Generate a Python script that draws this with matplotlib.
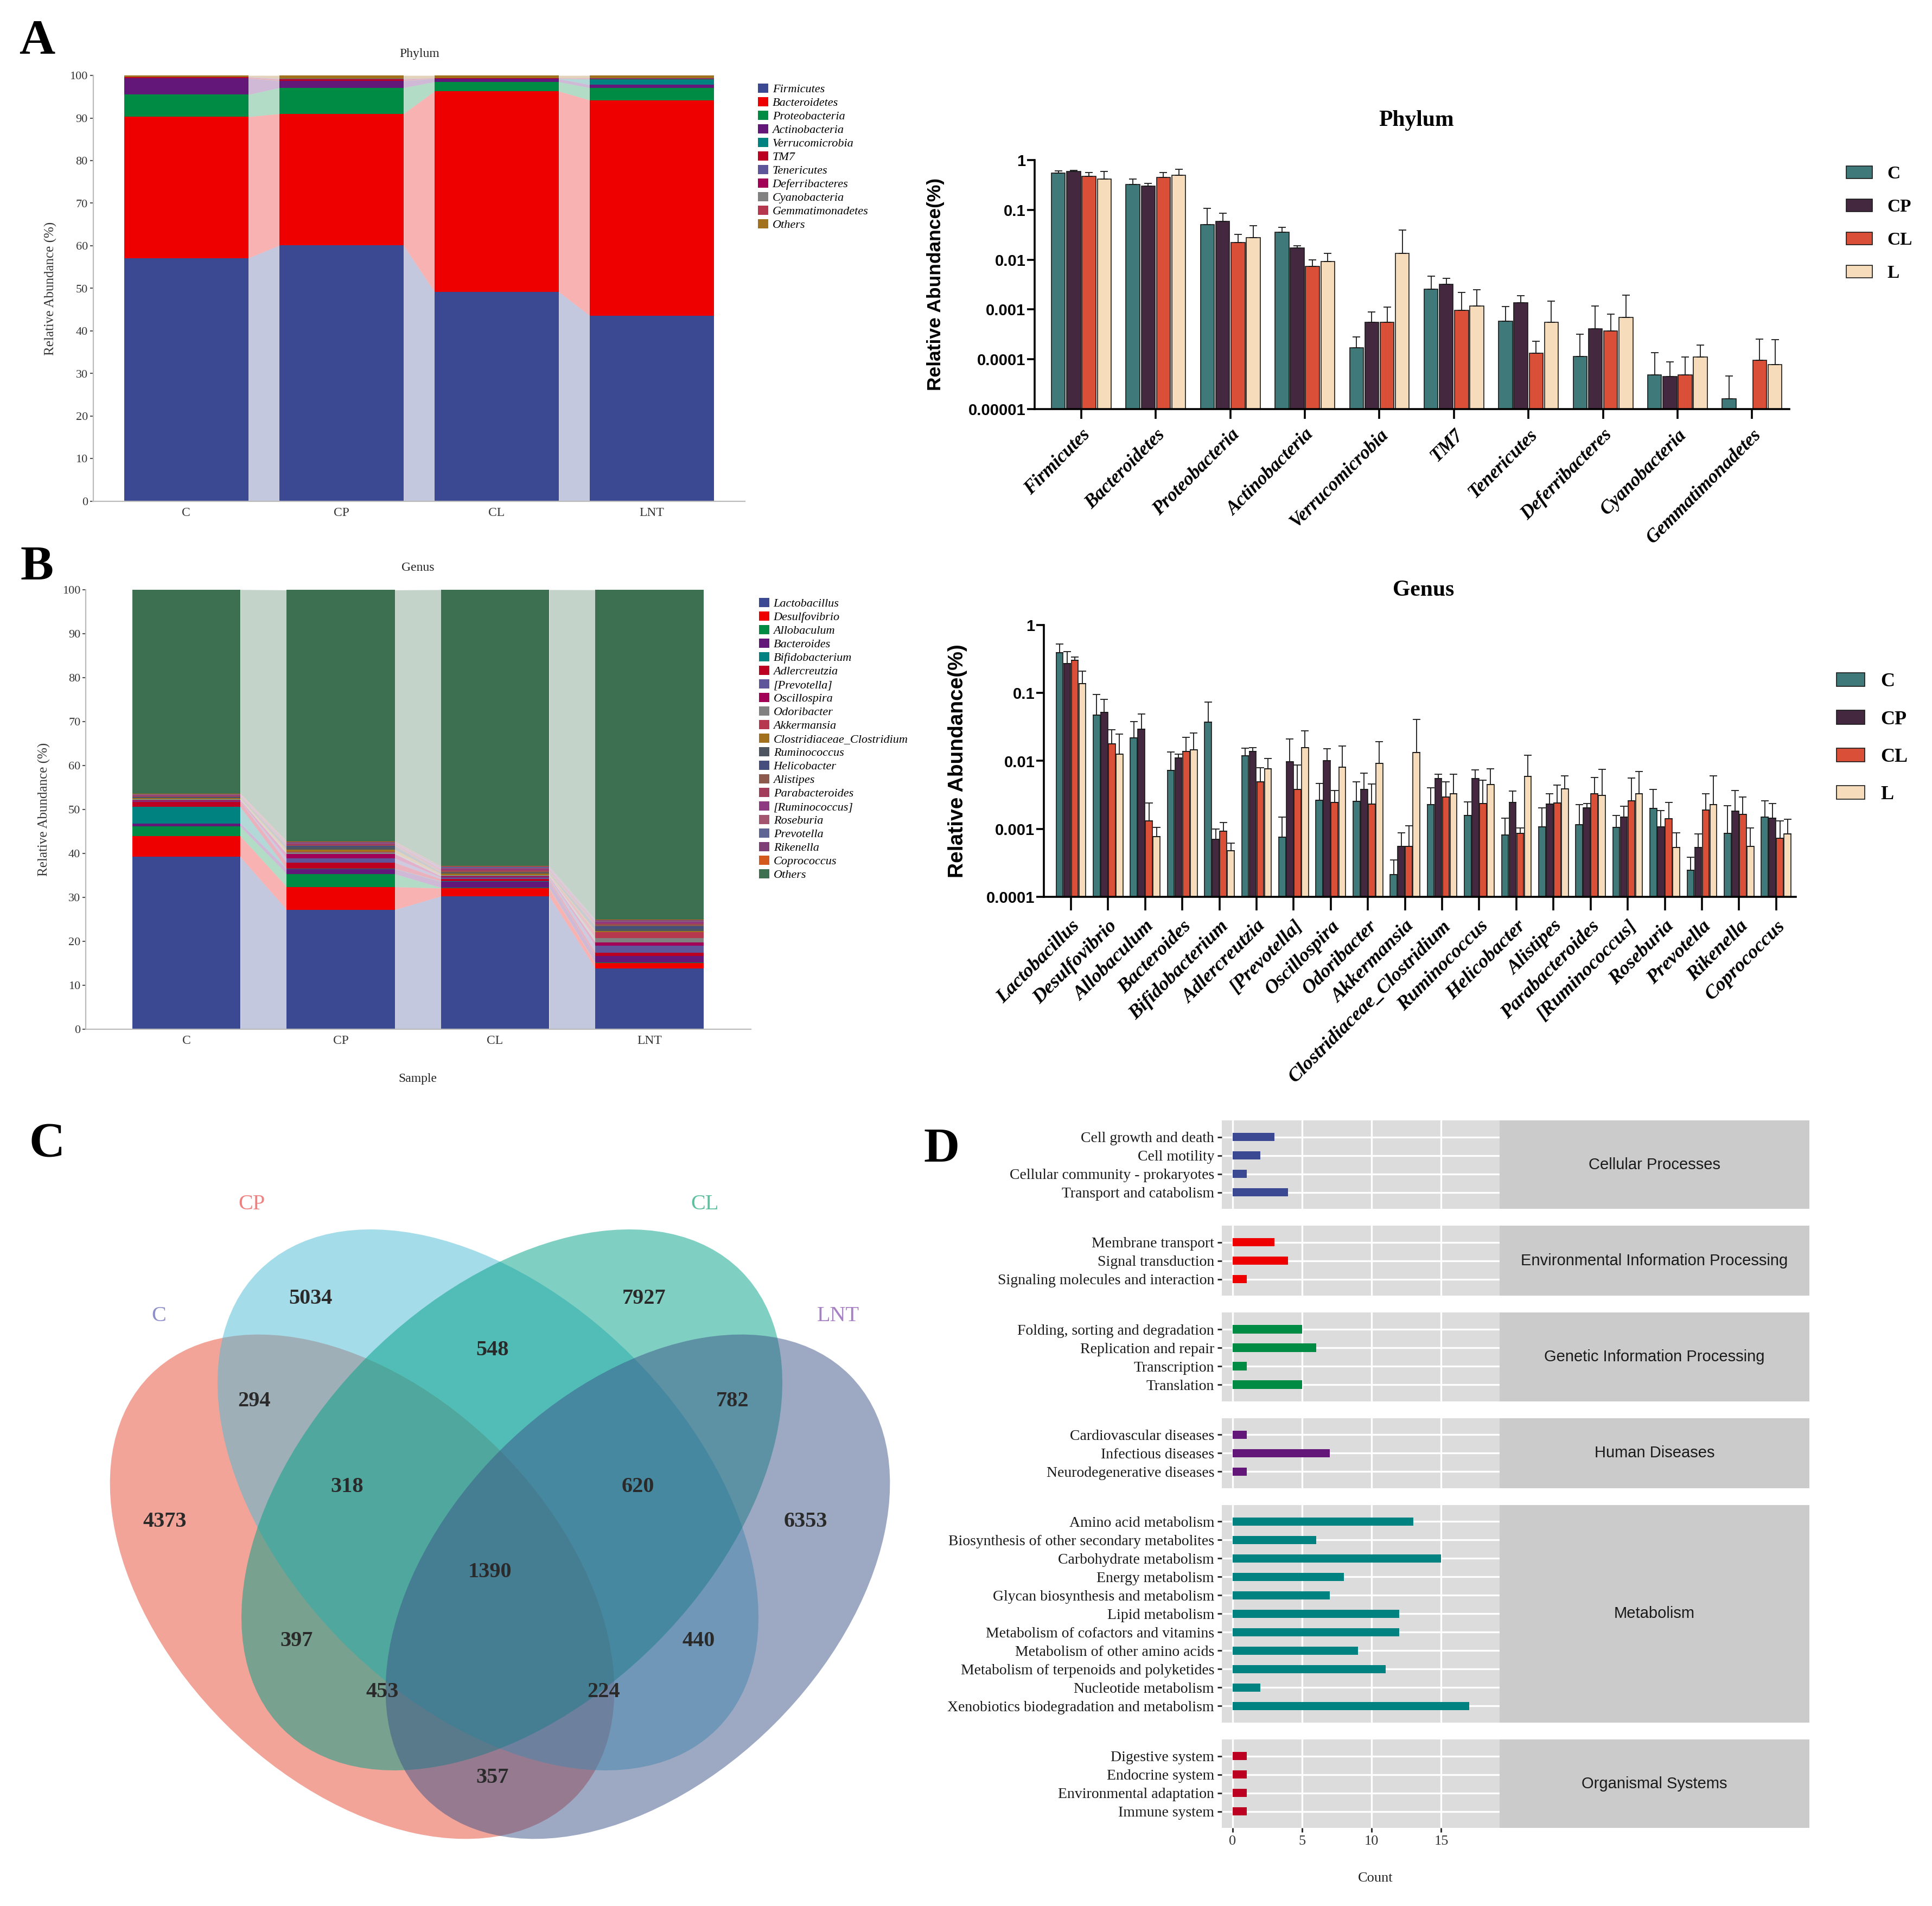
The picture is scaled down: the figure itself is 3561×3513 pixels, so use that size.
import numpy as np
import matplotlib
matplotlib.use("Agg")
import matplotlib.pyplot as plt
from matplotlib.patches import Ellipse
from matplotlib.ticker import NullLocator

SERIF = "Liberation Serif"
SANS = "Liberation Sans"

# ---------------- data ----------------
samples = ["C", "CP", "CL", "LNT"]
groups = ["C", "CP", "CL", "L"]

# A: phylum, stacked relative abundance (%)
phyla = ["Firmicutes", "Bacteroidetes", "Proteobacteria", "Actinobacteria",
         "Verrucomicrobia", "TM7", "Tenericutes", "Deferribacteres",
         "Cyanobacteria", "Gemmatimonadetes"]
pct_C = [57.1, 33.2, 5.2, 3.8, 0.02, 0.26, 0.06, 0.01, 0.005, 0.002, 0.34]
pct_CP = [60.1, 30.9, 6.1, 1.6, 0.06, 0.33, 0.14, 0.04, 0.005, 0.0, 0.72]
pct_CL = [49.2, 47.1, 2.2, 0.7, 0.06, 0.10, 0.01, 0.04, 0.005, 0.01, 0.57]
pct_LNT = [43.6, 50.6, 2.9, 0.7, 1.35, 0.12, 0.06, 0.07, 0.011, 0.008, 0.58]

# A: phylum group means and mean+sd (fraction)
phy_C = [0.547, 0.317, 0.0503, 0.0351, 0.00017, 0.00253, 0.000585, 0.000115, 0.0000486, 0.0000163]
phy_CP = [0.579, 0.295, 0.058, 0.0171, 0.00056, 0.00318, 0.00138, 0.00041, 0.0000452, np.nan]
phy_CL = [0.467, 0.447, 0.0219, 0.0073, 0.00055, 0.00097, 0.000133, 0.00037, 0.0000492, 0.0000955]
phy_L = [0.416, 0.488, 0.0275, 0.0092, 0.0132, 0.00118, 0.00055, 0.0007, 0.000112, 0.0000782]
phy_C_up = [0.605, 0.416, 0.106, 0.0449, 0.000285, 0.0047, 0.00115, 0.00032, 0.000135, 0.0000466]
phy_CP_up = [0.62, 0.335, 0.0844, 0.0189, 0.00089, 0.0042, 0.0019, 0.00117, 0.0000891, np.nan]
phy_CL_up = [0.563, 0.555, 0.0318, 0.0099, 0.00111, 0.0022, 0.000233, 0.00081, 0.000112, 0.000254]
phy_L_up = [0.579, 0.65, 0.0475, 0.0132, 0.0394, 0.0025, 0.00147, 0.00195, 0.000193, 0.00025]

# B: genus group means and mean+sd (fraction)
genera = ["Lactobacillus", "Desulfovibrio", "Allobaculum", "Bacteroides", "Bifidobacterium",
          "Adlercreutzia", "[Prevotella]", "Oscillospira", "Odoribacter", "Akkermansia",
          "Clostridiaceae_Clostridium", "Ruminococcus", "Helicobacter", "Alistipes",
          "Parabacteroides", "[Ruminococcus]", "Roseburia", "Prevotella", "Rikenella", "Coprococcus"]
gen_C = [0.392, 0.0475, 0.0217, 0.0073, 0.0372, 0.012, 0.00076, 0.00263, 0.00254, 0.000214,
         0.00226, 0.00157, 0.00082, 0.00108, 0.00115, 0.00105, 0.00199, 0.000247, 0.00086, 0.0015]
gen_CP = [0.272, 0.052, 0.0294, 0.0111, 0.0007, 0.0139, 0.0098, 0.0101, 0.00383, 0.00055,
          0.0055, 0.0055, 0.00245, 0.0023, 0.00203, 0.0015, 0.00108, 0.00053, 0.00181, 0.00145]
gen_CL = [0.303, 0.018, 0.0013, 0.0137, 0.00093, 0.0049, 0.00383, 0.00245, 0.00234, 0.00055,
          0.00296, 0.00237, 0.00086, 0.0024, 0.00329, 0.0026, 0.0014, 0.0019, 0.00164, 0.00073]
gen_L = [0.138, 0.0126, 0.00077, 0.0147, 0.00048, 0.0076, 0.0158, 0.0081, 0.0092, 0.0134,
         0.00329, 0.00446, 0.0059, 0.0039, 0.00313, 0.00329, 0.00053, 0.00229, 0.00055, 0.00085]
gen_C_up = [0.525, 0.095, 0.0376, 0.0136, 0.0733, 0.0154, 0.0015, 0.0047, 0.0049, 0.00035,
            0.004, 0.0025, 0.00143, 0.00203, 0.00229, 0.00157, 0.00383, 0.00038, 0.0022, 0.0026]
gen_CP_up = [0.406, 0.08, 0.0486, 0.0126, 0.001, 0.0156, 0.0212, 0.0151, 0.00656, 0.00087,
             0.0064, 0.0074, 0.0036, 0.0033, 0.00235, 0.00215, 0.00185, 0.00085, 0.0037, 0.00237]
gen_CL_up = [0.34, 0.0287, 0.0024, 0.0222, 0.00124, 0.0079, 0.0087, 0.00365, 0.0046, 0.00112,
             0.00495, 0.0052, 0.00104, 0.00445, 0.0057, 0.0056, 0.00245, 0.00329, 0.00296, 0.0013]
gen_L_up = [0.208, 0.025, 0.00105, 0.0258, 0.00062, 0.0109, 0.0277, 0.0166, 0.0193, 0.0408,
            0.0064, 0.0076, 0.0122, 0.006, 0.0075, 0.007, 0.00087, 0.006, 0.00104, 0.00138]
genus_others_pct = [46.4, 57.2, 62.9, 75.1]

# C: Venn counts
venn_sets = ["C", "CP", "CL", "LNT"]
venn_counts = [5034, 7927, 294, 548, 782, 4373, 318, 620, 6353, 1390, 397, 440, 453, 224, 357]

# D: KEGG level 2 counts
kegg_classes = ["Cellular Processes", "Environmental Information Processing",
                "Genetic Information Processing", "Human Diseases", "Metabolism",
                "Organismal Systems"]
cell_terms = ["Cell growth and death", "Cell motility", "Cellular community - prokaryotes",
              "Transport and catabolism"]
cell_counts = [3, 2, 1, 4]
env_terms = ["Membrane transport", "Signal transduction", "Signaling molecules and interaction"]
env_counts = [3, 4, 1]
gen_terms = ["Folding, sorting and degradation", "Replication and repair", "Transcription",
             "Translation"]
gen_counts = [5, 6, 1, 5]
hum_terms = ["Cardiovascular diseases", "Infectious diseases", "Neurodegenerative diseases"]
hum_counts = [1, 7, 1]
met_terms = ["Amino acid metabolism", "Biosynthesis of other secondary metabolites",
             "Carbohydrate metabolism", "Energy metabolism", "Glycan biosynthesis and metabolism",
             "Lipid metabolism", "Metabolism of cofactors and vitamins",
             "Metabolism of other amino acids", "Metabolism of terpenoids and polyketides",
             "Nucleotide metabolism", "Xenobiotics biodegradation and metabolism"]
met_counts = [13, 6, 15, 8, 7, 12, 12, 9, 11, 2, 17]
org_terms = ["Digestive system", "Endocrine system", "Environmental adaptation", "Immune system"]
org_counts = [1, 1, 1, 1]

# ---------------- styles ----------------
phylum_colors = ["#3B4992", "#EE0000", "#008B45", "#631879", "#008280", "#BB0021",
                 "#5F559B", "#A20056", "#808180", "#B5384F", "#A2711E"]
genus_colors = ["#3B4992", "#EE0000", "#008B45", "#631879", "#008280", "#BB0021",
                "#5F559B", "#A20056", "#808180", "#B5384F", "#A2711E", "#4D5560",
                "#464E7E", "#8B5A4C", "#A23D5B", "#8E3A80", "#A35570", "#5E6494",
                "#7E3E76", "#D35A1C", "#3C7050"]
group_colors = ["#40797A", "#44283F", "#DA4F38", "#F6DCBA"]
class_colors = ["#3B4992", "#EE0000", "#008B45", "#631879", "#008280", "#BB0021"]
venn_fill = ["#E64B35", "#4DBBD5", "#00A087", "#3C5488"]
venn_label_colors = ["#8E8EC8", "#F07F7F", "#5BC0A0", "#A77FC4"]

W, H = 3561, 3513
fig = plt.figure(figsize=(W / 100, H / 100), dpi=100)


def box(x0, y0, x1, y1):
    # pixel box (y down) -> figure fraction rect
    return [x0 / W, 1 - y1 / H, (x1 - x0) / W, (y1 - y0) / H]


def fpos(x, y):
    return (x / W, 1 - y / H)


ov = fig.add_axes([0, 0, 1, 1])
ov.set_xlim(0, W)
ov.set_ylim(H, 0)
ov.axis("off")

for letter, (lx, ly) in zip("ABCD", [(68, 77), (68, 1047), (87, 2110), (1735, 2120)]):
    ov.text(lx, ly, letter, fontsize=66, fontweight="bold", family=SERIF,
            ha="center", va="center")


# ---------------- stacked bar panels ----------------
def stacked_panel(rect, names, table, colors, width, xlim, title, title_xy, ylab_x, leg_xy,
                  xlabel=None):
    ax = fig.add_axes(box(*rect))
    x = np.arange(len(samples))
    bottom = np.zeros(len(samples))
    for name, vals, col in zip(names, table, colors):
        vals = np.asarray(vals, float)
        ax.bar(x, vals, width, bottom=bottom, color=col, linewidth=0, label=name)
        top = bottom + vals
        for i in range(len(x) - 1):
            ax.fill_between([x[i] + width / 2, x[i + 1] - width / 2],
                            [bottom[i], bottom[i + 1]], [top[i], top[i + 1]],
                            color=col, alpha=0.3, linewidth=0)
        bottom = top
    ax.set_xlim(*xlim)
    ax.set_ylim(0, 100)
    ax.set_yticks(np.arange(0, 101, 10))
    ax.set_xticks(x, samples)
    for s in ["top", "right"]:
        ax.spines[s].set_visible(False)
    for s in ["left", "bottom"]:
        ax.spines[s].set_color("#BBBBBB")
        ax.spines[s].set_linewidth(1.6)
    ax.tick_params(axis="y", length=4, width=1.5, color="#555555", pad=3,
                   labelsize=16, labelcolor="#333333")
    ax.tick_params(axis="x", length=0, pad=8, labelsize=17, labelcolor="#333333")
    for t in ax.get_xticklabels() + ax.get_yticklabels():
        t.set_family(SERIF)
    ax.set_ylabel("Relative Abundance (%)", family=SERIF, fontsize=18, color="#333333")
    ax.yaxis.set_label_coords(ylab_x, 0.5)
    ov.text(*title_xy, title, family=SERIF, fontsize=17, ha="center", va="center", color="#222222")
    if xlabel:
        ov.text(*xlabel, "Sample", family=SERIF, fontsize=17, ha="center", va="center", color="#222222")
    ax.legend(loc="upper left", bbox_to_anchor=fpos(*leg_xy), bbox_transform=fig.transFigure,
              frameon=False, borderaxespad=0, borderpad=0, handlelength=0.85, handleheight=0.8,
              handletextpad=0.35, labelspacing=0.17,
              prop={"family": SERIF, "style": "italic", "size": 16})
    return ax


phylum_table = np.array([pct_C, pct_CP, pct_CL, pct_LNT]).T
stacked_panel((171.5, 139, 1373, 924), phyla + ["Others"], phylum_table, phylum_colors, 0.8,
              (-0.6, 3.6), "Phylum", (773, 99), -0.055, (1397, 154))

genus_table = np.vstack([np.array([gen_C, gen_CP, gen_CL, gen_L]).T * 100, genus_others_pct])
stacked_panel((158, 1087, 1384, 1897), genera + ["Others"], genus_table, genus_colors, 0.7,
              (-0.652, 3.657), "Genus", (770, 1046), -0.053, (1399, 1102), xlabel=(770, 1988))


# ---------------- log bar panels ----------------
def log_panel(rect, names, means, ups, ymin, ylabels, xlim, title, title_xy, ylab_x, ylab_size,
              xlab_size, xtick_len, xpad, leg_xy, leg_size, leg_space):
    ax = fig.add_axes(box(*rect))
    ax.set_yscale("log")
    x = np.arange(len(names))
    for k, (m, u) in enumerate(zip(means, ups)):
        m = np.asarray(m, float)
        u = np.asarray(u, float)
        pos = x + (k - 1.5) * 0.205
        ax.bar(pos, m, 0.185, color=group_colors[k], edgecolor="#1A1A1A", linewidth=1.2,
               label=groups[k], zorder=2)
        ax.errorbar(pos, m, yerr=[np.zeros_like(m), u - m], fmt="none", ecolor="#1A1A1A",
                    elinewidth=1.3, capsize=5, capthick=1.3, zorder=3)
    ax.set_ylim(ymin, 1)
    ax.set_xlim(*xlim)
    ticks = [10.0 ** p for p in range(int(round(np.log10(ymin))), 1)]
    ax.set_yticks(ticks, ylabels, family=SANS, fontweight="bold", fontsize=21)
    ax.yaxis.set_minor_locator(NullLocator())
    ax.set_xticks(x, names, rotation=45, ha="right", rotation_mode="anchor", family=SERIF,
                  fontstyle="italic", fontweight="bold", fontsize=xlab_size)
    for s in ["top", "right"]:
        ax.spines[s].set_visible(False)
    for s in ["left", "bottom"]:
        ax.spines[s].set_linewidth(2.6)
        ax.spines[s].set_color("black")
    ax.tick_params(axis="y", length=10, width=2.6, pad=2)
    ax.tick_params(axis="x", length=xtick_len, width=2.6, pad=xpad)
    ax.set_ylabel("Relative Abundance(%)", family=SANS, fontweight="bold", fontsize=ylab_size)
    ax.yaxis.set_label_coords(ylab_x, 0.5)
    ov.text(*title_xy, title, family=SERIF, fontweight="bold", fontsize=30, ha="center", va="center")
    ax.legend(loc="upper left", bbox_to_anchor=fpos(*leg_xy), bbox_transform=fig.transFigure,
              frameon=False, borderaxespad=0, borderpad=0, handlelength=1.45, handleheight=0.7,
              handletextpad=0.8, labelspacing=leg_space,
              prop={"family": SERIF, "weight": "bold", "size": leg_size})
    return ax


log_panel((1907, 294.6, 3298, 754.4), phyla,
          [phy_C, phy_CP, phy_CL, phy_L], [phy_C_up, phy_CP_up, phy_CL_up, phy_L_up],
          1e-5, ["0.00001", "0.0001", "0.001", "0.01", "0.1", "1"], (-0.626, 9.5),
          "Phylum", (2611, 222), -0.119, 25.5, 25, 13, 9, (3403, 305), 24, 0.9)

log_panel((1924, 1152, 3310, 1653), genera,
          [gen_C, gen_CP, gen_CL, gen_L], [gen_C_up, gen_CP_up, gen_CL_up, gen_L_up],
          1e-4, ["0.0001", "0.001", "0.01", "0.1", "1"], (-0.73, 19.53),
          "Genus", (2624, 1088), -0.102, 28, 26, 18, 9, (3385, 1240), 26, 1.0)

# ---------------- C: Venn ----------------
venn_shapes = [((667.5, 2924.5), 552, 357, 45), ((899.5, 2764.5), 597, 375, 45),
               ((943.5, 2764.5), 597, 375, -45), ((1175.5, 2924.5), 552, 357, -45)]
for (c, a, b, ang), col in zip(venn_shapes, venn_fill):
    ov.add_patch(Ellipse(c, 2 * a, 2 * b, angle=ang, facecolor=col, alpha=0.5, edgecolor="none"))
venn_label_pos = [(293, 2425), (464, 2219), (1299, 2219), (1545, 2425)]
for name, (lx, ly), col in zip(venn_sets, venn_label_pos, venn_label_colors):
    ov.text(lx, ly, name, family=SERIF, fontsize=29, color=col, ha="center", va="center")
venn_count_pos = [(572, 2393), (1187, 2393), (468, 2582), (908, 2488), (1350, 2582),
                  (304, 2804), (640, 2740), (1176, 2740), (1485, 2804), (903, 2897),
                  (547, 3024), (1288, 3024), (705, 3118), (1113, 3118), (908, 3276)]
for n, (lx, ly) in zip(venn_counts, venn_count_pos):
    ov.text(lx, ly, str(n), family=SERIF, fontweight="bold", fontsize=29, color="#2A2A2A",
            ha="center", va="center")

# ---------------- D: KEGG facets ----------------
d_sets = [(cell_terms, cell_counts), (env_terms, env_counts), (gen_terms, gen_counts),
          (hum_terms, hum_counts), (met_terms, met_counts), (org_terms, org_counts)]
row_px, gap_px = 34, 31
y = 2065
for k, (terms, counts) in enumerate(d_sets):
    n = len(terms)
    h = (n - 1 + 1.8) * row_px
    ax = fig.add_axes(box(2252, y, 2764, y + h))
    ax.set_facecolor("#DCDCDC")
    rows = np.arange(n)
    ax.barh(rows, counts, height=0.45, color=class_colors[k], zorder=3)
    ax.set_ylim(n - 1 + 0.9, -0.9)
    ax.set_xlim(-0.78, 19.2)
    ax.set_yticks(rows, terms, family=SERIF, fontsize=20, color="#1A1A1A")
    ax.set_xticks([0, 5, 10, 15], ["0", "5", "10", "15"], family=SERIF, fontsize=19, color="#333333")
    ax.grid(True, color="white", linewidth=2.4)
    ax.set_axisbelow(True)
    for s in ax.spines.values():
        s.set_visible(False)
    ax.tick_params(axis="y", length=6, width=2.2, color="#333333", pad=4)
    if k < len(d_sets) - 1:
        ax.tick_params(axis="x", length=0, labelbottom=False)
    else:
        ax.tick_params(axis="x", length=6, width=2.2, color="#333333", pad=4)
    sax = fig.add_axes(box(2764, y, 3335, y + h))
    sax.set_facecolor("#CBCBCB")
    sax.set_xticks([])
    sax.set_yticks([])
    for s in sax.spines.values():
        s.set_visible(False)
    sax.text(0.5, 0.5, kegg_classes[k], transform=sax.transAxes, ha="center", va="center",
             family=SANS, fontsize=21, color="#1A1A1A")
    y += h + gap_px

ov.text(2535, 3462, "Count", family=SERIF, fontsize=19, ha="center", va="center", color="#222222")

fig.savefig("out.png", dpi=100)
